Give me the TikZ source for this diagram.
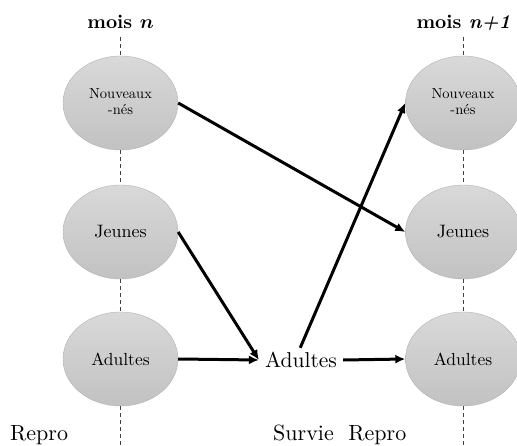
\documentclass[tikz,border=0pt]{standalone}
\usetikzlibrary{shapes.geometric,arrows.meta}
\begin{document}
\begin{tikzpicture}[x=1pt,y=1pt,
  cell/.style={ellipse, minimum width=115pt, minimum height=94pt, inner sep=0pt,
    draw=black!30, line width=0.4pt, top color=black!15, bottom color=black!24, align=center},
  guide/.style={black!75, line width=0.7pt, dash pattern=on 4pt off 3pt},
  flow/.style={line width=3pt, -{Latex[length=10pt,width=9pt]}}]
\useasboundingbox (0,0) rectangle (517,445);
% left column
\node[cell] (ln) at (120.5,342) {\scalebox{1.45}{\begin{tabular}{@{}c@{}}Nouveaux\\[-1pt]-nés\end{tabular}}};
\node[cell] (lj) at (120.5,213) {\scalebox{1.8}{Jeunes}};
\node[cell] (la) at (120.5,86) {\scalebox{1.75}{Adultes}};
% right column
\node[cell] (rn) at (463,342) {\scalebox{1.45}{\begin{tabular}{@{}c@{}}Nouveaux\\[-1pt]-nés\end{tabular}}};
\node[cell] (rj) at (463,213) {\scalebox{1.8}{Jeunes}};
\node[cell] (ra) at (463,86) {\scalebox{1.75}{Adultes}};
% middle
\node[inner sep=6pt] (ma) at (301,85) {\scalebox{2.15}{Adultes}};
% headers
\node[anchor=base] (hn) at (120.5,416) {\scalebox{1.95}{\textbf{mois \boldmath$n$}}};
\node[anchor=base] (hn1) at (463.5,416) {\scalebox{1.95}{\textbf{mois \textit{n+1}}}};
% footers
\node[anchor=base west, inner sep=0pt] (f1) at (10,5) {\scalebox{2.2}{Repro}};
\node[anchor=base west, inner sep=0pt] (f2) at (273,5) {\scalebox{2.2}{Survie\ \ Repro}};
% guide coordinates
\coordinate (lt) at (120.5,408);
\coordinate (lb) at (120.5,0);
\coordinate (rt) at (463,408);
\coordinate (rb) at (463,0);
\draw[guide] (lt) -- (ln.north);
\draw[guide] (ln.south) -- (lj.north);
\draw[guide] (lj.south) -- (la.north);
\draw[guide] (la.south) -- (lb);
\draw[guide] (rt) -- (rn.north);
\draw[guide] (rn.south) -- (rj.north);
\draw[guide] (rj.south) -- (ra.north);
\draw[guide] (ra.south) -- (rb);
% flows
\draw[flow] (ln.east) -- (rj.west);
\draw[flow] (lj.east) -- (ma.west);
\draw[flow] (la.east) -- (ma.west);
\draw[flow, shorten <=-2pt] (ma.north) -- (rn.west);
\draw[flow] (ma.east) -- (ra.west);
\end{tikzpicture}
\end{document}
